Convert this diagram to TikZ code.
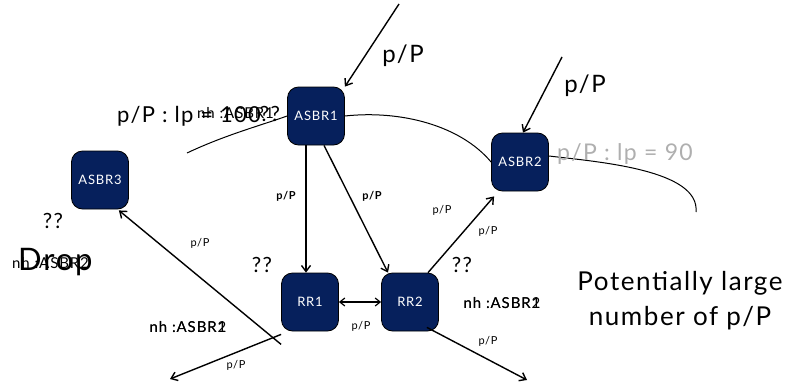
\documentclass[tikz,border=0pt]{standalone}
\usepackage{fontspec}
\setmainfont{Lato}[LetterSpace=6]
\usetikzlibrary{arrows.meta}
\definecolor{navy}{RGB}{6,32,92}
\definecolor{lightgray}{RGB}{175,175,175}
\tikzset{
  router/.style={draw=black, line width=0.8pt, fill=navy, rounded corners=11pt,
    minimum width=57pt, minimum height=58pt, text=white, font=\fontsize{13}{15}\selectfont, inner sep=0pt},
  flow/.style={-{Straight Barb[length=6pt,width=9pt,line width=1.4pt]}, line width=1.4pt},
  tiny/.style={font=\fontsize{11}{13}\selectfont, inner sep=0pt},
  tinybold/.style={font=\bfseries\fontsize{11}{13}\selectfont, inner sep=0pt},
  nhlabel/.style={font=\fontsize{15}{18}\selectfont, inner sep=0pt},
  big/.style={font=\fontsize{24}{30}\selectfont, inner sep=0pt},
  qq/.style={font=\fontsize{21}{24}\selectfont, inner sep=0pt},
  trail/.style={line width=1pt}
}
\begin{document}
\begin{tikzpicture}[x=1pt,y=-1pt]
\useasboundingbox (0,0) rectangle (792,383);

% routers
\node[router] (asbr1) at (316,116) {ASBR1};
\node[router] (asbr2) at (520,162) {ASBR2};
\node[router] (asbr3) at (100,180) {ASBR3};
\node[router] (rr1) at (310,302) {RR1};
\node[router] (rr2) at (410,302) {RR2};

% free ends
\coordinate (in1) at (399,4);
\coordinate (in2) at (562,57);
\coordinate (outl) at (170,379);
\coordinate (outr) at (527,380);
\coordinate (c1) at (187,153);
\coordinate (c3) at (696,212);

% paths learned across the AS
\draw[trail] (c1) .. controls (225,135) and (262,125) .. (asbr1.west);
\draw[trail] (asbr1.east) .. controls (400,110) and (460,125) .. (asbr2.west);
\draw[trail] ([yshift=6pt]asbr2.east) .. controls (600,162) and (700,170) .. (c3);

% external announcements
\draw[flow] (in1) -- (asbr1.north east);
\node[big] at (403,56) {p/P};
\draw[flow] (in2) -- ([xshift=3pt]asbr2.north);
\node[big] at (585,86) {p/P};

% internal distribution
\draw[flow] ([xshift=-10pt]asbr1.south) -- ([xshift=-4pt]rr1.north);
\node[tinybold] at (286,196) {p/P};
\draw[flow] ([xshift=8pt]asbr1.south) -- ([xshift=-22pt]rr2.north);
\node[tinybold] at (372,196) {p/P};
\draw[flow] ([xshift=18pt]rr2.north) -- ([xshift=3pt,yshift=-5pt]asbr2.south west);
\node[tiny] at (442,210) {p/P};
\node[tiny] at (488,231) {p/P};
\draw[{Straight Barb[length=5pt,width=8pt,line width=1.2pt]}-{Straight Barb[length=5pt,width=8pt,line width=1.2pt]}, line width=1.2pt] (rr1.east) -- (rr2.west);
\node[tiny] at (361,326) {p/P};
\draw[flow] ([yshift=-13pt]rr1.south west) -- ([xshift=-10pt,yshift=-1pt]asbr3.south east);
\node[tiny] at (200,243) {p/P};
\draw[flow] ([yshift=-3pt]rr1.south west) -- (outl);
\node[tiny] at (236,365) {p/P};
\draw[flow] ([xshift=-12pt,yshift=4pt]rr2.south east) -- (outr);
\node[tiny] at (488,341) {p/P};

% attribute labels
\node[font=\fontsize{23}{27}\selectfont, text=lightgray, anchor=base west, inner sep=0pt] at (557,160) {p/P : lp = 90};
\node[font=\fontsize{22}{26}\selectfont, anchor=base west, inner sep=0pt] at (117,122) {p/P : lp = 100};
\node[nhlabel, anchor=base west] at (197,118) {nh :ASBR1};
\node[qq] at (270,114) {??};

\node[qq] at (53,221) {??};
\node[nhlabel, anchor=base west] at (12,268) {nh :ASBR2};
\node[font=\fontsize{31}{36}\selectfont, anchor=base west, inner sep=0pt] at (18,270) {Drop};

\node[qq] at (262,265) {??};
\node[qq] at (462,265) {??};
\node[nhlabel] at (188,327) {nh :ASBR1};
\node[nhlabel] at (188,327) {nh :ASBR2};
\node[nhlabel] at (502,303) {nh :ASBR1};
\node[nhlabel] at (502,303) {nh :ASBR2};

\node[font=\fontsize{26}{35}\selectfont, align=center, inner sep=0pt, anchor=base] at (680,325) {Potentially large\\number of p/P};
\end{tikzpicture}
\end{document}
